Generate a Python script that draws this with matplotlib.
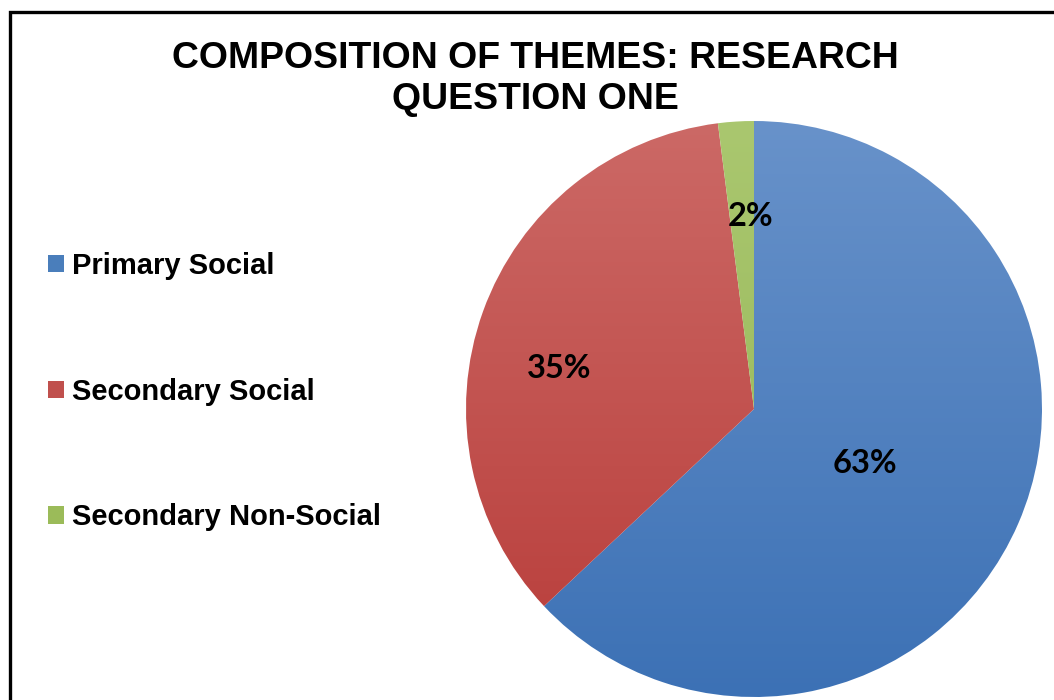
import numpy as np
import matplotlib
matplotlib.use("Agg")
import matplotlib.pyplot as plt
from matplotlib.patches import Patch, Rectangle
from matplotlib.colors import LinearSegmentedColormap

# data
categories = ["Primary Social", "Secondary Social", "Secondary Non-Social"]
shares = [63, 35, 2]
title = "COMPOSITION OF THEMES: RESEARCH\nQUESTION ONE"

# colours (top of pie, bottom of pie) and legend swatch
grad_top = ["#6892CA", "#CC6966", "#AAC76F"]
grad_bot = ["#3C71B5", "#B83C39", "#93B455"]
swatch = ["#4A7EBB", "#C0504D", "#9BBB59"]

W, H = 1054, 700
fig = plt.figure(figsize=(W / 100, H / 100), dpi=100)

# outer frame (right and bottom edges are outside the picture)
fig.patches.append(Rectangle((10 / W, -0.1), 1.2, 1 - 12 / H + 0.1,
                             transform=fig.transFigure, fill=False,
                             edgecolor="black", linewidth=2.4))

cx, cy, r = 754, 409, 288
ax = fig.add_axes([(cx - r) / W, (H - cy - r) / H, 2 * r / W, 2 * r / H])
wedges, _ = ax.pie(shares, startangle=90, counterclock=False, radius=1,
                   colors=swatch, wedgeprops=dict(linewidth=0))

grad = np.linspace(0, 1, 256).reshape(-1, 1)
for w, top, bot in zip(wedges, grad_top, grad_bot):
    cmap = LinearSegmentedColormap.from_list("g", [bot, top])
    img = ax.imshow(grad, origin="lower", extent=[-1, 1, -1, 1], cmap=cmap,
                    aspect="auto", zorder=1, interpolation="bilinear")
    img.set_clip_path(w)
    w.set_facecolor("none")
ax.set_xlim(-1, 1)
ax.set_ylim(-1, 1)
ax.set_aspect("equal")
ax.axis("off")

# percentage labels placed like Excel's best fit
lab_r = [0.43, 0.69, 0.67]
lab_shift = [-2.5, 8, -2.5]
for w, v, rr, sh in zip(wedges, shares, lab_r, lab_shift):
    a = np.deg2rad((w.theta1 + w.theta2) / 2 + sh)
    ax.text(rr * np.cos(a), rr * np.sin(a), f"{v}%", ha="center", va="center",
            fontsize=23.5, fontweight="bold", family="Lato", zorder=3)

fig.text(535 / W, 1 - 79 / H, title, ha="center", va="center",
         fontsize=26.9, fontweight="bold", family="Liberation Sans",
         linespacing=1.2)

handles = [Patch(facecolor=c) for c in swatch]
fig.legend(handles, categories, loc="upper left",
           bbox_to_anchor=(48 / W, 1 - 252 / H), frameon=False,
           prop=dict(family="Liberation Sans", weight="bold", size=21),
           handlelength=0.55, handleheight=0.55, handletextpad=0.28,
           labelspacing=3.35, borderaxespad=0, borderpad=0)

fig.savefig("out.png", dpi=100)
